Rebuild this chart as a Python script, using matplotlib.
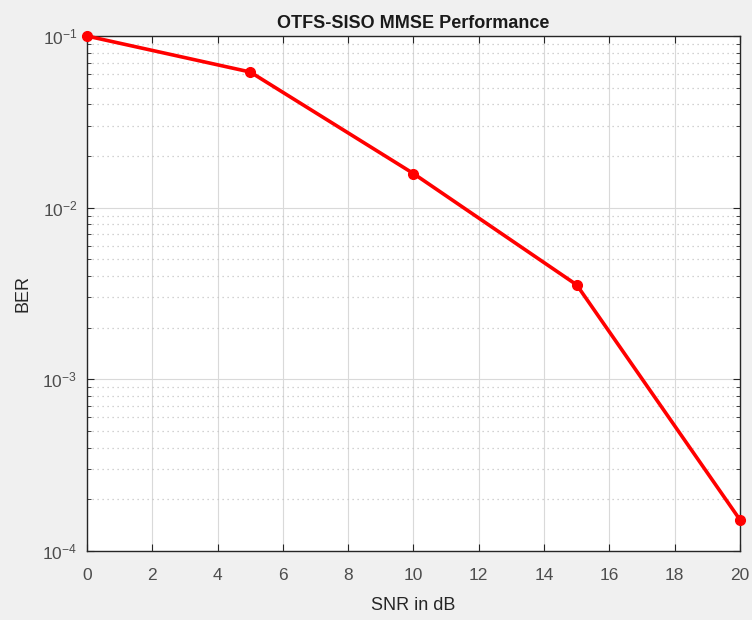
import matplotlib.pyplot as plt
import numpy as np

plt.rcParams['font.family'] = ['Liberation Sans', 'DejaVu Sans']
plt.rcParams['mathtext.fontset'] = 'custom'
plt.rcParams['mathtext.rm'] = 'Liberation Sans'
plt.rcParams['mathtext.it'] = 'Liberation Sans'

# BER vs SNR for OTFS-SISO with MMSE detection
snr_db = [0, 5, 10, 15, 20]
ber = [0.1, 0.0617, 0.0158, 0.00355, 0.000152]
ytick_vals = [1e-4, 1e-3, 1e-2, 1e-1]
ytick_text = ['10$^{-4}$', '10$^{-3}$', '10$^{-2}$', '10$^{-1}$']

fig = plt.figure(figsize=(7.52, 6.2), dpi=100, facecolor='#f0f0f0')
ax = fig.add_axes([0.1157, 0.1113, 0.8683, 0.8306])
ax.set_facecolor('white')

ax.semilogy(snr_db, ber, '-o', color='#ff0000', linewidth=2.6,
            markersize=7, clip_on=False, zorder=3)

ax.set_xlim(0, 20)
ax.set_ylim(1e-4, 1e-1)
ax.set_xticks(np.arange(0, 21, 2))
ax.set_yticks(ytick_vals)
ax.set_yticklabels(ytick_text)

ax.grid(True, which='major', color='#d9d9d9', linestyle='-', linewidth=0.8)
ax.grid(True, which='minor', axis='y', color='#c4c4c4', linestyle=(0, (1, 3)), linewidth=0.9)
ax.set_axisbelow(True)

ax.tick_params(which='both', direction='in', top=True, right=True,
               colors='#262626', labelcolor='#4d4d4d', labelsize=12.5)
ax.tick_params(which='major', length=5)
ax.tick_params(which='minor', length=3)
ax.tick_params(axis='x', pad=12)
ax.tick_params(axis='y', pad=7)
for s in ax.spines.values():
    s.set_color('#262626')
    s.set_linewidth(1.0)

ax.set_title('OTFS-SISO MMSE Performance', fontsize=13, fontweight='bold',
             color='#1a1a1a', pad=6)
ax.set_xlabel('SNR in dB', fontsize=13, color='#262626', labelpad=10)
ax.set_ylabel('BER', fontsize=13, color='#262626', labelpad=8)

fig.savefig('out.png', dpi=100, facecolor=fig.get_facecolor())
